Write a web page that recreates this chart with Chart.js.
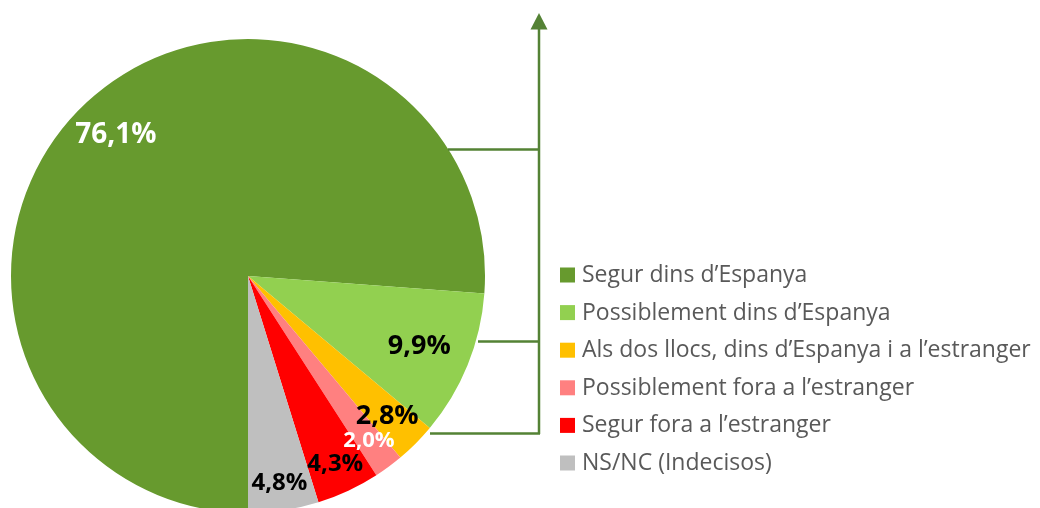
<!DOCTYPE html>
<html>
<head>
<meta charset="utf-8">
<script src="https://cdn.jsdelivr.net/npm/chart.js@4/dist/chart.umd.min.js"></script>
<style>
  html, body { margin: 0; padding: 0; background: #ffffff; overflow: hidden; }
  #wrap { position: absolute; left: 0; top: 0; width: 1040px; height: 560px; }
</style>
</head>
<body>
<div id="wrap"><canvas id="c" width="1040" height="560"></canvas></div>
<script>
const categories = [
  "Segur dins d’Espanya",
  "Possiblement dins d’Espanya",
  "Als dos llocs, dins d’Espanya i a l’estranger",
  "Possiblement fora a l’estranger",
  "Segur fora a l’estranger",
  "NS/NC (Indecisos)"
];
const values = [76.1, 9.9, 2.8, 2.0, 4.3, 4.8];
const valueLabels = ["76,1%", "9,9%", "2,8%", "2,0%", "4,3%", "4,8%"];
const colors = ["#679A2E", "#92D050", "#FFC000", "#FF8080", "#FF0000", "#BFBFBF"];

// label styling (presentation only)
const labelStyle = [
  { color: "#FFFFFF", size: 28, r: 0.82 },
  { color: "#000000", size: 27, r: 0.78 },
  { color: "#000000", size: 27, r: 0.83 },
  { color: "#FFFFFF", size: 22, r: 0.86 },
  { color: "#000000", size: 24, r: 0.87 },
  { color: "#000000", size: 24, r: 0.88 }
];

const labelsPlugin = {
  id: 'sliceLabels',
  afterDatasetsDraw(chart) {
    const ctx = chart.ctx;
    const meta = chart.getDatasetMeta(0);
    ctx.save();
    ctx.textAlign = 'center';
    ctx.textBaseline = 'middle';
    meta.data.forEach((arc, i) => {
      const p = arc.getProps(['x', 'y', 'startAngle', 'endAngle', 'outerRadius'], true);
      const mid = (p.startAngle + p.endAngle) / 2;
      const st = labelStyle[i];
      const rr = p.outerRadius * st.r;
      ctx.font = 'bold ' + st.size + 'px "Open Sans", sans-serif';
      ctx.fillStyle = st.color;
      ctx.fillText(valueLabels[i], p.x + Math.cos(mid) * rr, p.y + Math.sin(mid) * rr + 1);
    });
    ctx.restore();
  }
};

const legendPlugin = {
  id: 'customLegend',
  afterDraw(chart) {
    const ctx = chart.ctx;
    const ds = chart.data.datasets[0];
    ctx.save();
    ctx.font = '23px "Open Sans", sans-serif';
    ctx.textBaseline = 'middle';
    ctx.textAlign = 'left';
    chart.data.labels.forEach((lab, i) => {
      const cy = 275 + i * 37.6;
      ctx.fillStyle = ds.backgroundColor[i];
      ctx.fillRect(560, cy - 7.5, 15, 15);
      ctx.fillStyle = '#595959';
      ctx.fillText(lab, 582, cy + 0.5);
    });
    ctx.restore();
  }
};

const bracketPlugin = {
  id: 'bracket',
  afterDraw(chart) {
    const ctx = chart.ctx;
    ctx.save();
    ctx.strokeStyle = '#548235';
    ctx.fillStyle = '#548235';
    ctx.lineWidth = 2.5;
    ctx.beginPath();
    ctx.moveTo(539, 28); ctx.lineTo(539, 434);
    ctx.moveTo(448, 149.5); ctx.lineTo(539, 149.5);
    ctx.moveTo(478, 341.5); ctx.lineTo(539, 341.5);
    ctx.moveTo(430, 433.5); ctx.lineTo(540, 433.5);
    ctx.stroke();
    ctx.beginPath();
    ctx.moveTo(539, 13); ctx.lineTo(547.5, 29.5); ctx.lineTo(530.5, 29.5);
    ctx.closePath();
    ctx.fill();
    ctx.restore();
  }
};

new Chart(document.getElementById('c'), {
  type: 'pie',
  data: {
    labels: categories,
    datasets: [{
      data: values,
      backgroundColor: colors,
      borderWidth: 0
    }]
  },
  options: {
    responsive: false,
    animation: false,
    devicePixelRatio: 1,
    rotation: 180,
    layout: { padding: { left: 11, right: 555, top: 39, bottom: 47 } },
    plugins: {
      legend: { display: false },
      tooltip: { enabled: false },
      title: { display: false }
    }
  },
  plugins: [labelsPlugin, legendPlugin, bracketPlugin]
});
</script>
</body>
</html>
